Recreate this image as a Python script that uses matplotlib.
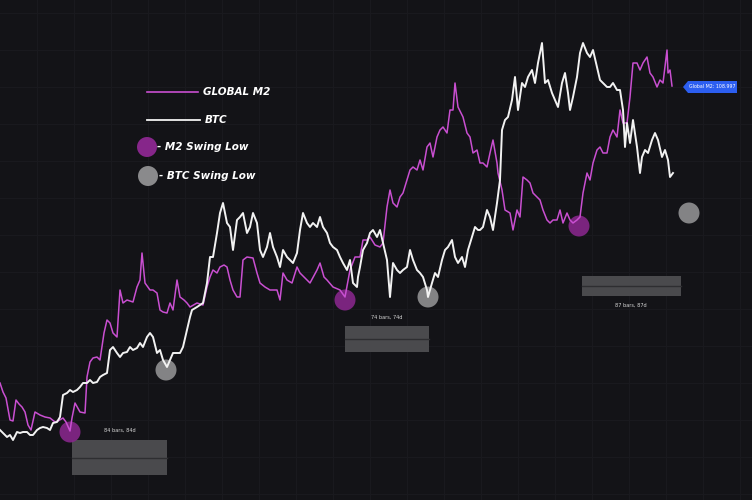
import matplotlib
matplotlib.use("Agg")
import matplotlib.pyplot as plt
from matplotlib.patches import Circle, Rectangle, Polygon
import numpy as np

# ---- data (x: time position, y: level; level = 500 - pixel row) ----
m2_x = [0,3,6,10,13,16,19,22,25,28,31,35,40,45,50,55,58,63,66,70,72,75,80,85,87,90,93,97,100,104,107,110,113,117,
        120,123,127,133,137,140,142,145,150,153,157,160,163,167,170,173,177,180,184,187,190,197,203,207,210,213,217,
        220,224,227,230,233,237,240,243,247,253,257,260,265,270,277,280,283,287,292,297,300,307,310,317,320,324,327,
        333,340,345,350,355,360,363,367,370,375,380,383,387,390,393,397,400,403,410,413,417,420,423,427,430,433,437,
        440,443,447,450,453,455,458,463,467,470,473,477,480,483,487,490,493,497,498,502,505,510,513,517,520,523,527,
        530,533,537,540,543,547,550,553,557,560,563,567,570,573,577,580,583,587,590,593,597,600,603,607,610,613,617,
        620,623,627,630,633,637,640,643,647,650,653,657,660,663,667,668,670,672]
m2_row = [383,392,398,420,421,400,404,407,412,425,430,412,415,417,418,422,421,418,422,431,418,403,412,413,377,362,358,357,360,333,320,323,333,337,
          290,303,300,302,287,280,253,283,290,290,293,310,312,313,303,310,280,297,300,303,307,303,305,287,277,270,273,
          267,265,267,280,290,297,297,260,257,258,273,283,287,290,290,300,273,280,283,267,273,280,283,270,263,277,280,
          287,290,297,270,257,257,240,240,237,245,247,243,207,190,203,207,197,193,170,167,170,160,170,147,143,157,137,
          130,127,133,110,110,83,107,117,133,137,153,150,163,163,167,153,140,163,173,190,210,213,230,210,217,177,180,
          183,193,197,200,210,220,223,220,220,210,223,213,220,223,220,217,193,173,180,163,150,147,153,153,137,130,137,
          110,123,123,97,63,63,70,63,57,73,77,87,80,83,50,73,70,86]

btc_x = [0,3,7,10,13,17,20,23,27,30,33,37,40,43,47,50,53,57,60,63,67,70,73,77,80,83,87,90,93,97,100,103,107,110,113,117,
         120,123,127,130,133,137,140,143,147,150,153,157,160,163,167,170,173,177,180,183,187,190,192,197,203,207,210,213,
         217,220,223,227,230,233,237,240,243,247,250,253,257,260,263,267,270,273,277,280,283,287,290,293,297,300,303,307,
         310,313,317,320,323,327,330,333,337,340,343,347,350,353,357,358,360,363,367,370,373,377,380,383,387,390,393,397,
         400,403,407,410,413,417,420,423,427,428,432,435,438,442,445,448,452,455,458,462,465,468,472,475,478,480,483,487,
         490,493,497,500,502,505,508,512,515,518,522,525,528,532,535,538,542,545,548,552,555,558,562,565,568,570,573,577,
         580,583,587,590,593,597,600,603,607,610,613,617,620,623,625,627,630,633,637,640,642,645,648,652,655,658,662,665,
         668,670,673]
btc_row = [430,433,437,435,440,432,433,432,432,435,435,430,428,427,428,430,423,422,417,395,393,390,392,390,387,383,383,380,383,382,377,375,373,350,347,353,
           357,353,352,347,350,348,343,347,337,333,337,353,350,360,367,360,353,353,353,347,330,317,310,307,303,283,257,257,
           233,213,203,223,227,250,220,217,213,233,227,213,223,250,257,247,233,247,257,267,250,257,260,263,253,230,213,223,
           227,223,227,217,227,233,243,247,250,257,263,270,260,283,287,277,267,250,243,233,230,237,230,243,260,297,263,270,
           273,270,267,250,260,270,273,277,290,297,283,273,277,260,250,247,240,257,263,257,267,250,237,227,230,230,227,210,
           217,230,203,180,130,120,117,100,77,110,83,87,77,70,83,63,43,83,80,93,100,107,83,73,93,110,97,77,
           53,43,53,57,50,67,80,83,87,87,83,90,90,110,147,123,143,120,147,173,157,150,153,140,133,140,157,150,
           160,177,173]

m2_low_x = [70, 345, 579]
m2_low_row = [432, 300, 226]
btc_low_x = [166, 428, 689]
btc_low_row = [370, 297, 213]

box_labels = ["84 bars, 84d", "74 bars, 74d", "87 bars, 87d"]
last_label = "Global M2: 108.997"
legend_labels = ["GLOBAL M2", "BTC", "- M2 Swing Low", "- BTC Swing Low"]

H = 500
m2_y = [H - r for r in m2_row]
btc_y = [H - r for r in btc_row]
m2_low_y = [H - r for r in m2_low_row]
btc_low_y = [H - r for r in btc_low_row]

BG = "#131317"
MAG = "#c94fd1"
WHITE = "#f2f2f2"
PURP = "#86268a"
GRAY = "#8a8a8c"
BOX = "#4a4a4d"

fig = plt.figure(figsize=(7.52, 5.0), dpi=100, facecolor=BG)
ax = fig.add_axes([0, 0, 1, 1])
ax.set_facecolor(BG)
ax.set_xlim(0, 752)
ax.set_ylim(0, 500)
for s in ax.spines.values():
    s.set_visible(False)
ax.set_xticks(np.arange(37, 752, 37))
ax.set_yticks(np.arange(H - 13, 0, -37))
ax.tick_params(length=0, labelbottom=False, labelleft=False)
ax.grid(True, color="#1a1a1f", linewidth=0.7)
ax.set_axisbelow(True)

# swing-low circles
for x, y in zip(m2_low_x, m2_low_y):
    ax.add_patch(Circle((x, y), 10.5, color=PURP, alpha=0.9, zorder=4, lw=0))
for x, y in zip(btc_low_x, btc_low_y):
    ax.add_patch(Circle((x, y), 10.5, color=GRAY, alpha=0.95, zorder=4, lw=0))

ax.plot(m2_x, m2_y, color=MAG, lw=1.1, zorder=5)
ax.plot(btc_x, btc_y, color=WHITE, lw=1.4, zorder=6)

# measurement boxes
boxes = [(72, 167, 440, 475, 120, 430), (345, 429, 326, 352, 387, 317), (582, 681, 276, 296, 631, 305)]
for (x0, x1, r0, r1, tx, tr), lab in zip(boxes, box_labels):
    ax.add_patch(Rectangle((x0, H - r1), x1 - x0, r1 - r0, color=BOX, lw=0, zorder=3))
    mid = (r0 + r1) / 2
    ax.plot([x0, x1], [H - mid, H - mid], color="#2e2e31", lw=1.0, zorder=3)
    ax.text(tx, H - tr, lab, color="#d8d8d8", fontsize=3.6, ha="center", va="center", zorder=7)

# last value label
ax.add_patch(Polygon([(683, H - 87), (688, H - 81), (737, H - 81), (737, H - 93), (688, H - 93)],
                     closed=True, color="#2c5ef0", lw=0, zorder=7))
ax.text(712, H - 87, last_label, color="white", fontsize=3.4, ha="center", va="center", zorder=8)

# legend
lf = dict(color="white", fontsize=7.5, fontstyle="italic", fontweight="bold", va="center", family="DejaVu Sans")
ax.plot([147, 198], [H - 92, H - 92], color=MAG, lw=1.2)
ax.text(203, H - 92, legend_labels[0], **lf)
ax.plot([147, 200], [H - 120, H - 120], color=WHITE, lw=1.3)
ax.text(205, H - 120, legend_labels[1], **lf)
ax.add_patch(Circle((147, H - 147), 10, color=PURP, lw=0))
ax.text(157, H - 147, legend_labels[2], **lf)
ax.add_patch(Circle((148, H - 176), 10, color=GRAY, lw=0))
ax.text(159, H - 176, legend_labels[3], **lf)

fig.savefig("out.png", dpi=100, facecolor=BG)
